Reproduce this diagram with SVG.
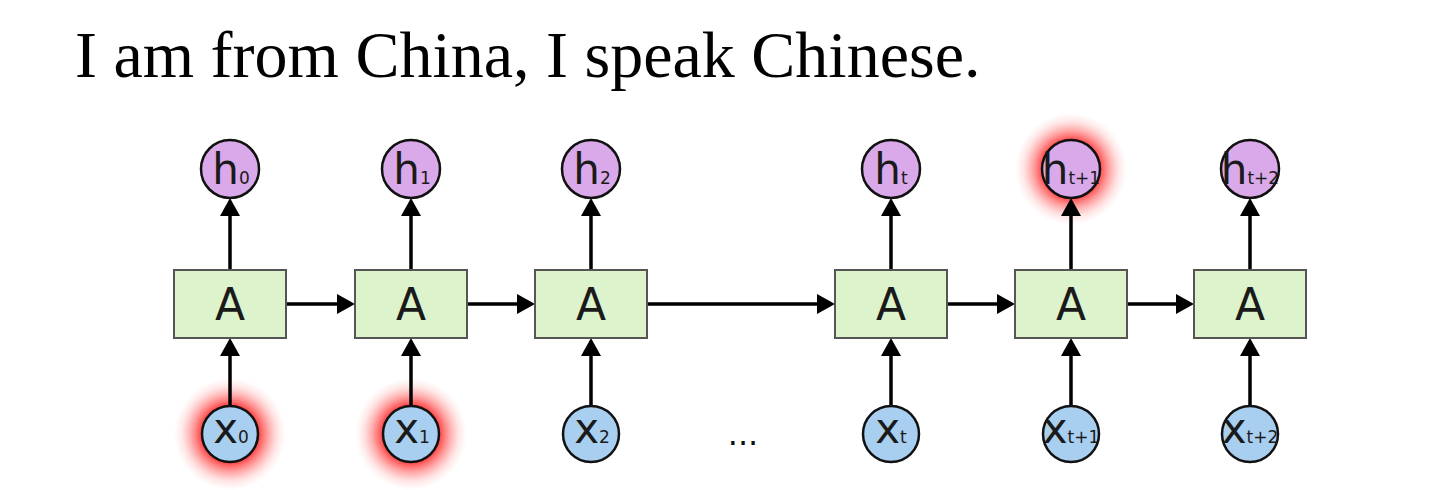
<svg xmlns="http://www.w3.org/2000/svg" width="1448" height="490" viewBox="0 0 1448 490">
<style>
.title{font-family:"Liberation Serif","Times New Roman",serif;font-size:66px;fill:#000}
.box{fill:#ddf3cc;stroke:#555;stroke-width:2}
.hc{fill:#daa9ea;stroke:#111;stroke-width:2.5}
.xc{fill:#a8cfef;stroke:#111;stroke-width:2.5}
.lbl{font-family:"DejaVu Sans",sans-serif;font-size:42px;fill:#1a1a1a;text-anchor:middle}
.sub{font-size:17px}
.A{font-family:"DejaVu Sans",sans-serif;font-size:44px;fill:#1a1a1a;text-anchor:middle}
.arr{stroke:#000;stroke-width:3.5;fill:none;marker-end:url(#ah)}
.dots{font-family:"DejaVu Sans",sans-serif;font-size:32px;fill:#111;text-anchor:middle}
.glow{fill:url(#glow)}
</style>
<defs>
<marker id="ah" markerUnits="userSpaceOnUse" viewBox="0 0 18 20" refX="8" refY="10" markerWidth="18" markerHeight="20" orient="auto">
<path d="M0,0 L18,10 L0,20 z" fill="#000"/>
</marker>
<radialGradient id="glow" cx="0.5" cy="0.5" r="0.5">
<stop offset="0.5" stop-color="#ff2a2a" stop-opacity="0.9"/>
<stop offset="0.68" stop-color="#ff4a4a" stop-opacity="0.5"/>
<stop offset="0.85" stop-color="#ff7070" stop-opacity="0.18"/>
<stop offset="1" stop-color="#ff9090" stop-opacity="0"/>
</radialGradient>
</defs>
<rect width="1448" height="490" fill="#fff"/>
<text class="title" x="75" y="77">I am from China, I speak Chinese.</text>

<g id="highlights">
<circle class="glow" cx="1071" cy="169" r="56"/>
<circle class="glow" cx="230" cy="434" r="56"/>
<circle class="glow" cx="411" cy="434" r="56"/>
</g>

<g id="connectors">
<path class="arr" d="M230,406 V348"/>
<path class="arr" d="M411,406 V348"/>
<path class="arr" d="M591,406 V348"/>
<path class="arr" d="M891,406 V348"/>
<path class="arr" d="M1071,406 V348"/>
<path class="arr" d="M1250,406 V348"/>
<path class="arr" d="M230,270 V208"/>
<path class="arr" d="M411,270 V208"/>
<path class="arr" d="M591,270 V208"/>
<path class="arr" d="M891,270 V208"/>
<path class="arr" d="M1071,270 V208"/>
<path class="arr" d="M1250,270 V208"/>
<path class="arr" d="M286,304 H345"/>
<path class="arr" d="M467,304 H525"/>
<path class="arr" d="M647,304 H825"/>
<path class="arr" d="M947,304 H1005"/>
<path class="arr" d="M1127,304 H1184"/>
</g>

<g id="A0"><rect class="box" x="174" y="270" width="112" height="68"/><text class="A" x="230" y="320">A</text></g>
<g id="A1"><rect class="box" x="355" y="270" width="112" height="68"/><text class="A" x="411" y="320">A</text></g>
<g id="A2"><rect class="box" x="535" y="270" width="112" height="68"/><text class="A" x="591" y="320">A</text></g>
<g id="At"><rect class="box" x="835" y="270" width="112" height="68"/><text class="A" x="891" y="320">A</text></g>
<g id="At1"><rect class="box" x="1015" y="270" width="112" height="68"/><text class="A" x="1071" y="320">A</text></g>
<g id="At2"><rect class="box" x="1194" y="270" width="112" height="68"/><text class="A" x="1250" y="320">A</text></g>

<g id="h0"><circle class="hc" cx="230" cy="169" r="29"/><text class="lbl" x="231" y="184">h<tspan class="sub">0</tspan></text></g>
<g id="h1"><circle class="hc" cx="411" cy="169" r="29"/><text class="lbl" x="412" y="184">h<tspan class="sub">1</tspan></text></g>
<g id="h2"><circle class="hc" cx="591" cy="169" r="29"/><text class="lbl" x="592" y="184">h<tspan class="sub">2</tspan></text></g>
<g id="ht"><circle class="hc" cx="891" cy="169" r="29"/><text class="lbl" x="891" y="184">h<tspan class="sub">t</tspan></text></g>
<g id="ht1"><circle class="hc" cx="1071" cy="169" r="29"/><text class="lbl" x="1071" y="184">h<tspan class="sub">t+1</tspan></text></g>
<g id="ht2"><circle class="hc" cx="1250" cy="169" r="29"/><text class="lbl" x="1250" y="184">h<tspan class="sub">t+2</tspan></text></g>

<g id="x0"><circle class="xc" cx="230" cy="434" r="28"/><text class="lbl" x="231" y="443">x<tspan class="sub">0</tspan></text></g>
<g id="x1"><circle class="xc" cx="411" cy="434" r="28"/><text class="lbl" x="412" y="443">x<tspan class="sub">1</tspan></text></g>
<g id="x2"><circle class="xc" cx="591" cy="434" r="28"/><text class="lbl" x="592" y="443">x<tspan class="sub">2</tspan></text></g>
<g id="xt"><circle class="xc" cx="891" cy="434" r="28"/><text class="lbl" x="891" y="443">x<tspan class="sub">t</tspan></text></g>
<g id="xt1"><circle class="xc" cx="1071" cy="434" r="28"/><text class="lbl" x="1071" y="443">x<tspan class="sub">t+1</tspan></text></g>
<g id="xt2"><circle class="xc" cx="1250" cy="434" r="28"/><text class="lbl" x="1250" y="443">x<tspan class="sub">t+2</tspan></text></g>

<text class="dots" x="743" y="445">...</text>
</svg>
